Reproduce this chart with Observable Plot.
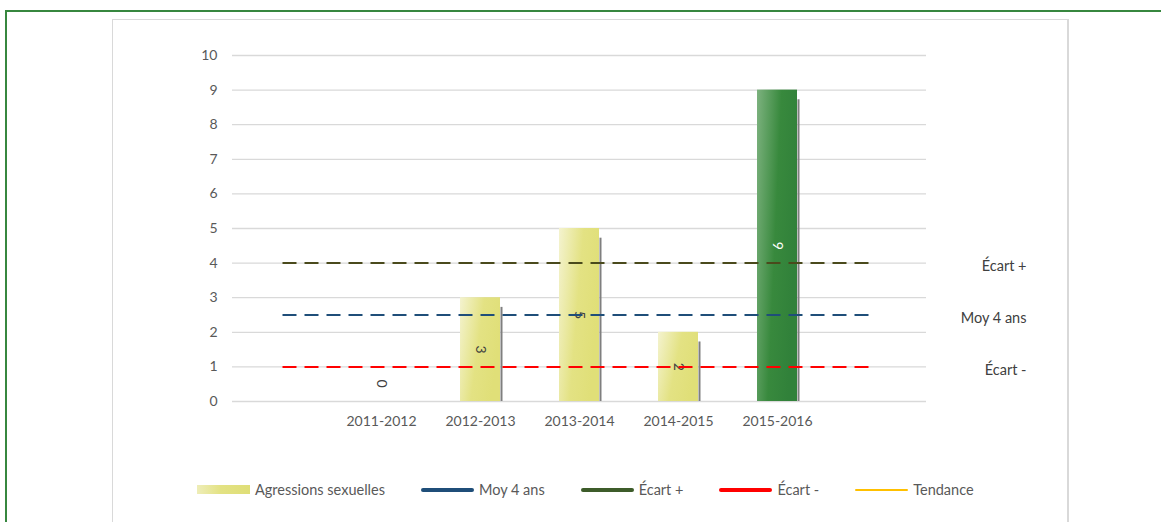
<!DOCTYPE html>
<html>
<head>
<meta charset="utf-8">
<script src="https://cdn.jsdelivr.net/npm/d3@7"></script>
<script src="https://cdn.jsdelivr.net/npm/@observablehq/plot@0.6"></script>
<style>
  body { margin: 0; background: #fff; font-family: Lato, "Liberation Sans", sans-serif; }
  #wrap { position: relative; width: 1161px; height: 522px; background: #fff; overflow: hidden; }
  .gtop { position: absolute; left: 5px; top: 10px; right: 0; height: 2px; background: #37873f; }
  .gleft { position: absolute; left: 5px; top: 10px; width: 2px; bottom: 0; background: #37873f; }
  .panel { position: absolute; left: 112px; top: 19px; width: 954px; height: 530px; border: 1px solid #d9d9d9; border-right-width: 2px; }
  #chart { position: absolute; left: 0; top: 0; }
  #legend { position: absolute; left: 197px; top: 481px; display: flex; align-items: center; gap: 36px; font-size: 14.5px; color: #595959; }
  .item { display: flex; align-items: center; gap: 5px; white-space: nowrap; }
  .sw { width: 53px; height: 9px; }
  .ln { width: 53px; height: 4px; border-radius: 2px; }
</style>
</head>
<body>
<div id="wrap">
  <div class="gtop"></div>
  <div class="gleft"></div>
  <div class="panel"></div>
  <div id="chart"></div>
  <div id="legend"></div>
</div>
<script>
// ---- data ----
const periods = ["2011-2012", "2012-2013", "2013-2014", "2014-2015", "2015-2016"];
const agressions = [0, 3, 5, 2, 9];
const highlightPeriod = "2015-2016";
const refNames = ["Écart +", "Moy 4 ans", "Écart -"];
const refValues = [4, 2.5, 1];
const yTicks = [0, 1, 2, 3, 4, 5, 6, 7, 8, 9, 10];
const legendLabels = ["Agressions sexuelles", "Moy 4 ans", "Écart +", "Écart -", "Tendance"];

// ---- styles ----
const refColors = {"Écart +": "#4a4a1c", "Moy 4 ans": "#1f4e79", "Écart -": "#ff0000"};
const legendColors = {"Moy 4 ans": "#1f4e79", "Écart +": "#3d5c2a", "Écart -": "#ff0000", "Tendance": "#ffc000"};

const padStart = "_start", padEnd = "_end";
const xDomain = [padStart, ...periods, padEnd];

const rows = periods.map((p, i) => ({period: p, value: agressions[i]}));
const refRows = [];
refNames.forEach((n, i) => {
  refRows.push({name: n, x: padStart, y: refValues[i]});
  refRows.push({name: n, x: padEnd, y: refValues[i]});
});

const normal = rows.filter(d => d.period !== highlightPeriod);
const highlight = rows.filter(d => d.period === highlightPeriod);

const chart = Plot.plot({
  width: 1161,
  height: 460,
  marginLeft: 232,
  marginRight: 235,
  marginTop: 55,
  marginBottom: 59,
  style: {fontFamily: "Lato, 'Liberation Sans', sans-serif", fontSize: "14px", color: "#595959", background: "transparent"},
  x: {type: "band", domain: xDomain, paddingInner: 0.6, paddingOuter: 0.3, axis: null},
  y: {domain: [0, 10], axis: null},
  marks: [
    Plot.gridY(yTicks, {stroke: "#d9d9d9", strokeOpacity: 1, strokeWidth: 1.3}),
    Plot.axisY(yTicks, {tickSize: 0, tickPadding: 15, fontSize: 14, fill: "#595959"}),
    Plot.axisX(periods, {tickSize: 0, tickPadding: 15, fontSize: 14, fill: "#595959"}),
    Plot.ruleX(rows.filter(d => d.value > 0), {x: "period", y1: 0, y2: d => d.value - 0.28, dx: 21, stroke: "#7f7f7f", strokeWidth: 2}),
    Plot.barY(normal, {x: "period", y: "value", fill: "url(#gradYellow)"}),
    Plot.barY(highlight, {x: "period", y: "value", fill: "url(#gradGreen)"}),
    Plot.text(normal.filter(d => d.value > 0), {x: "period", y: d => d.value / 2, text: d => String(d.value), rotate: 90, fill: "#404040", fontSize: 14}),
    Plot.text(highlight.filter(d => d.value > 0), {x: "period", y: d => d.value / 2, text: d => String(d.value), rotate: 90, fill: "#ffffff", fontSize: 14}),
    Plot.text(rows.filter(d => d.value === 0), {x: "period", y: "value", text: d => String(d.value), rotate: 90, dy: -18, fill: "#404040", fontSize: 14}),
    Plot.line(refRows, {x: "x", y: "y", z: "name", stroke: d => refColors[d.name], strokeWidth: 2, strokeDasharray: "14,8", strokeLinecap: "butt"}),
    Plot.text(refRows.filter(d => d.x === padEnd), {x: "x", y: "y", text: "name", textAnchor: "end", dx: 150, dy: 3, fill: "#404040", fontSize: 14.5})
  ],
  color: {type: "identity"}
});

const defs = d3.select(chart).insert("defs", ":first-child");
defs.html(`
  <linearGradient id="gradYellow" x1="0" y1="0" x2="1" y2="0.35">
    <stop offset="0" stop-color="#f4f3cf"/>
    <stop offset="0.55" stop-color="#e3e283"/>
    <stop offset="1" stop-color="#e0df78"/>
  </linearGradient>
  <linearGradient id="gradGreen" x1="0" y1="0" x2="1" y2="0.35">
    <stop offset="0" stop-color="#7db27f"/>
    <stop offset="0.55" stop-color="#38893d"/>
    <stop offset="1" stop-color="#31813a"/>
  </linearGradient>`);

document.getElementById("chart").appendChild(chart);

// ---- legend ----
const legend = document.getElementById("legend");
legendLabels.forEach((label, i) => {
  const item = document.createElement("div");
  item.className = "item";
  const sw = document.createElement("div");
  if (i === 0) {
    sw.className = "sw";
    sw.style.background = "linear-gradient(90deg, #eeedb8 0%, #e3e283 45%, #dfde77 100%)";
  } else {
    sw.className = "ln";
    sw.style.background = legendColors[label];
    if (label === "Tendance") { sw.style.height = "2px"; }
  }
  const t = document.createElement("span");
  t.textContent = label;
  item.appendChild(sw);
  item.appendChild(t);
  legend.appendChild(item);
});
</script>
</body>
</html>
